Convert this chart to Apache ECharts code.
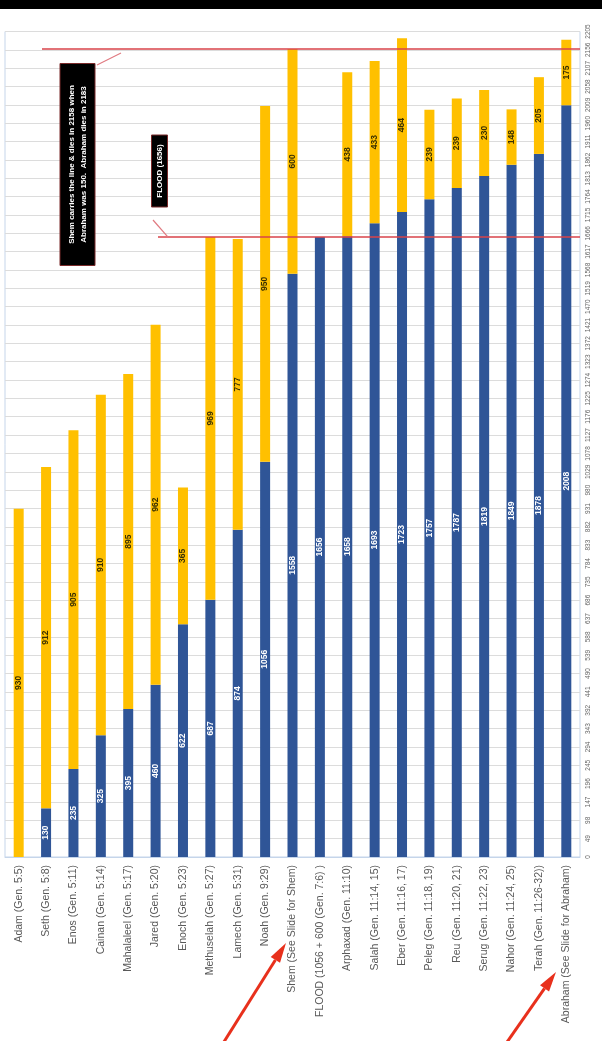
<!DOCTYPE html>
<html><head><meta charset="utf-8">
<script src="https://cdn.jsdelivr.net/npm/echarts@6/dist/echarts.min.js"></script>
<style>html,body{margin:0;padding:0;background:#fff}#c{width:602px;height:1041px}</style>
</head><body><div id="c"></div>
<script>
const categories = ['Adam (Gen. 5:5)','Seth (Gen. 5:8)','Enos (Gen. 5:11)','Cainan (Gen. 5:14)','Mahalaleel (Gen. 5:17)','Jared (Gen. 5:20)','Enoch (Gen. 5:23)','Methuselah (Gen. 5:27)','Lamech (Gen. 5:31)','Noah (Gen. 9:29)','Shem (See Slide for Shem)','FLOOD (1056 + 600 (Gen. 7:6) )','Arphaxad (Gen. 11:10)','Salah (Gen. 11:14, 15)','Eber (Gen. 11:16, 17)','Peleg (Gen. 11:18, 19)','Reu (Gen. 11:20, 21)','Serug (Gen. 11:22, 23)','Nahor (Gen. 11:24, 25)','Terah (Gen. 11:26-32))','Abraham (See Slide for Abraham)'];
const birthYear = [0,130,235,325,395,460,622,687,874,1056,1558,1656,1658,1693,1723,1757,1787,1819,1849,1878,2008];
const lifespan  = [930,912,905,910,895,962,365,969,777,950,600,0,438,433,464,239,239,230,148,205,175];
const axisMin = 0, axisMax = 2205, tickInterval = 49;
const floodYear = 1656, shemDeathYear = 2158;
const shemNote = ['Shem carries the line & dies in 2158 when','Abraham was 150.  Abraham dies in 2183'];
const floodNote = 'FLOOD (1656)';

const chart = echarts.init(document.getElementById('c'));
const font = 'Liberation Sans, Arial, sans-serif';
chart.setOption({
  animation:false,
  backgroundColor:'#ffffff',
  grid:{left:5,right:22,top:31.5,bottom:184,show:true,borderColor:'#c5d5ea',borderWidth:1,containLabel:false},
  xAxis:{type:'category',data:categories,
    axisLine:{show:true,lineStyle:{color:'#c5d5ea'}},axisTick:{show:false},
    axisLabel:{rotate:90,interval:0,fontSize:10.5,color:'#595959',fontFamily:font,margin:8}},
  yAxis:{type:'value',position:'right',min:axisMin,max:axisMax,interval:tickInterval,
    axisLine:{show:false},axisTick:{show:false},
    splitLine:{lineStyle:{color:'#dcdcdc',width:1}},
    axisLabel:{rotate:90,fontSize:6.5,color:'#666',fontFamily:font,margin:5,formatter:v=>String(v)}},
  series:[
    {type:'bar',name:'Born',stack:'a',data:birthYear,barWidth:10,itemStyle:{color:'#2f5597'},
      label:{show:true,position:'inside',rotate:90,color:'#ffffff',fontSize:8.5,fontWeight:'bold',fontFamily:font,
        formatter:p=>p.value?String(p.value):''}},
    {type:'bar',name:'Lived',stack:'a',data:lifespan,barWidth:10,itemStyle:{color:'#ffc000'},
      label:{show:true,position:'inside',rotate:90,color:'#3a3000',fontSize:8.5,fontWeight:'bold',fontFamily:font,
        formatter:p=>p.value?String(p.value):''}}
  ]
});

const yFlood = chart.convertToPixel({yAxisIndex:0}, floodYear);
const yShem = chart.convertToPixel({yAxisIndex:0}, shemDeathYear);
const red = '#d9434a';
function arrow(x1,y1,x2,y2){
  const a = Math.atan2(y2-y1,x2-x1), L=20, W=5.5;
  const bx = x2-L*Math.cos(a), by = y2-L*Math.sin(a);
  const px = -Math.sin(a)*W, py = Math.cos(a)*W;
  return [
    {type:'line',shape:{x1:x1,y1:y1,x2:bx,y2:by},style:{stroke:'#e8301c',lineWidth:3}},
    {type:'polygon',shape:{points:[[x2,y2],[bx+px,by+py],[bx-px,by-py]]},style:{fill:'#e8301c'}}
  ];
}
chart.setOption({graphic:[
  {type:'rect',shape:{x:0,y:0,width:602,height:9},style:{fill:'#000'}},
  {type:'line',shape:{x1:42,y1:yShem,x2:580,y2:yShem},style:{stroke:red,lineWidth:1.5},z:100},
  {type:'line',shape:{x1:158,y1:yFlood,x2:580,y2:yFlood},style:{stroke:red,lineWidth:1.5},z:100},
  {type:'line',shape:{x1:97,y1:65,x2:121,y2:53},style:{stroke:'#e07a80',lineWidth:1.2},z:100},
  {type:'line',shape:{x1:153,y1:220,x2:168,y2:yFlood},style:{stroke:'#e07a80',lineWidth:1.2},z:100},
  {type:'group',x:77.5,y:164.5,rotation:Math.PI/2,z:100,children:[
    {type:'rect',shape:{x:-101,y:-17.5,width:202,height:35},style:{fill:'#000',stroke:'#7a2a2a',lineWidth:1}},
    {type:'text',x:0,y:0,style:{text:shemNote.join('\n'),fill:'#fff',font:'bold 8px '+font,align:'center',verticalAlign:'middle',lineHeight:12}}
  ]},
  {type:'group',x:159.5,y:171,rotation:Math.PI/2,z:100,children:[
    {type:'rect',shape:{x:-36,y:-8,width:72,height:16},style:{fill:'#000',stroke:'#7a2a2a',lineWidth:1}},
    {type:'text',x:0,y:0,style:{text:floodNote,fill:'#fff',font:'bold 8px '+font,align:'center',verticalAlign:'middle'}}
  ]},
  ...arrow(222,1045,286,943).map(o=>Object.assign(o,{z:100})),
  ...arrow(505,1045,556,972).map(o=>Object.assign(o,{z:100}))
]});
</script></body></html>
